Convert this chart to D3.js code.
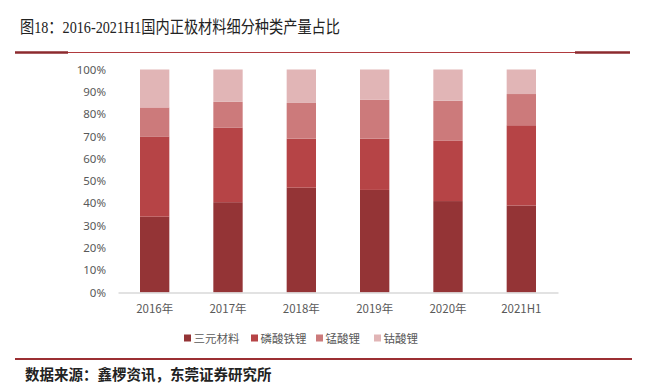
<!DOCTYPE html>
<html>
<head>
<meta charset="utf-8">
<script src="https://cdn.jsdelivr.net/npm/d3@7"></script>
<style>
    body { margin: 0; background: #fff; }
    svg text { font-family: "Noto Sans CJK SC", "Noto Sans", sans-serif; }
</style>
</head>
<body>
<div id="chart"></div>
<script>
const years = ["2016年", "2017年", "2018年", "2019年", "2020年", "2021H1"];
const seriesNames = ["三元材料", "磷酸铁锂", "锰酸锂", "钴酸锂"];
const ternary = [34, 40.5, 47, 46, 41, 39];
const lfp = [36, 33.5, 22, 23, 27, 36];
const lmo = [13, 11.5, 16, 17.5, 18, 14];
const lco = [17, 14.5, 15, 13.5, 14, 11];
const yTicks = [0, 10, 20, 30, 40, 50, 60, 70, 80, 90, 100];
const colors = ["#943436", "#b64446", "#cc7a7b", "#e1b5b6"];

const width = 649;
const height = 390;

const rows = years.map((y, i) => ({
    year: y,
    "三元材料": ternary[i],
    "磷酸铁锂": lfp[i],
    "锰酸锂": lmo[i],
    "钴酸锂": lco[i]
}));

const svg = d3.select("#chart")
    .append("svg")
    .attr("width", width)
    .attr("height", height);

// title and rules
svg.append("text")
    .attr("transform", "translate(20,33) scale(1,1.18)")
    .attr("font-size", 14.2)
    .attr("fill", "#222")
    .style("font-family", "'Liberation Serif', 'Noto Sans CJK SC', serif")
    .text("图18：2016-2021H1国内正极材料细分种类产量占比");

svg.append("line")
    .attr("x1", 15).attr("x2", 630)
    .attr("y1", 52.5).attr("y2", 52.5)
    .attr("stroke", "#b03a3e").attr("stroke-width", 1);
svg.append("line")
    .attr("x1", 15).attr("x2", 68)
    .attr("y1", 52.5).attr("y2", 52.5)
    .attr("stroke", "#8c2a2e").attr("stroke-width", 2.5);
svg.append("line")
    .attr("x1", 575).attr("x2", 630)
    .attr("y1", 52.5).attr("y2", 52.5)
    .attr("stroke", "#8c2a2e").attr("stroke-width", 2.5);

const x = d3.scaleBand()
    .domain(years)
    .range([118, 558])
    .paddingInner(0.6)
    .paddingOuter(0.3);

const y = d3.scaleLinear()
    .domain([0, 100])
    .range([292.5, 69.5]);

const stack = d3.stack().keys(seriesNames);
const stacked = stack(rows);

svg.append("g")
    .selectAll("g")
    .data(stacked)
    .enter()
    .append("g")
    .attr("fill", (d, i) => colors[i])
    .selectAll("rect")
    .data(d => d)
    .enter()
    .append("rect")
    .attr("x", d => x(d.data.year))
    .attr("y", d => y(d[1]))
    .attr("width", x.bandwidth())
    .attr("height", d => y(d[0]) - y(d[1]));

// y axis labels
const yAxis = svg.append("g")
    .attr("transform", "translate(106,0)")
    .call(d3.axisLeft(y).tickValues(yTicks).tickFormat(d => d + "%").tickSize(0).tickPadding(0));
yAxis.select(".domain").remove();
yAxis.selectAll("text")
    .attr("font-size", 11.5)
    .attr("fill", "#595959")
    .style("font-family", "'Noto Sans', sans-serif");

// x axis
const xAxis = svg.append("g")
    .attr("transform", "translate(0,292.5)")
    .call(d3.axisBottom(x).tickSize(0).tickPadding(12));
xAxis.select(".domain")
    .attr("stroke", "#d9d9d9")
    .attr("stroke-width", 1.5);
xAxis.selectAll("text")
    .attr("font-size", 11.5)
    .attr("fill", "#595959");

// legend
const legendX = [184, 251, 316, 374];
const legend = svg.append("g")
    .selectAll("g")
    .data(seriesNames)
    .enter()
    .append("g")
    .attr("transform", (d, i) => `translate(${legendX[i]},338)`);

legend.append("rect")
    .attr("x", 0)
    .attr("y", -3.5)
    .attr("width", 7)
    .attr("height", 7)
    .attr("fill", (d, i) => colors[i]);

legend.append("text")
    .attr("x", 9.5)
    .attr("y", 4.5)
    .attr("font-size", 11.5)
    .attr("fill", "#595959")
    .text(d => d);

// bottom rule and source
svg.append("line")
    .attr("x1", 15).attr("x2", 632)
    .attr("y1", 359).attr("y2", 359)
    .attr("stroke", "#9b2f33").attr("stroke-width", 2);

svg.append("text")
    .attr("x", 25)
    .attr("y", 380)
    .attr("font-size", 14.5)
    .attr("font-weight", "bold")
    .attr("fill", "#222")
    .text("数据来源：鑫椤资讯，东莞证券研究所");
</script>
</body>
</html>
